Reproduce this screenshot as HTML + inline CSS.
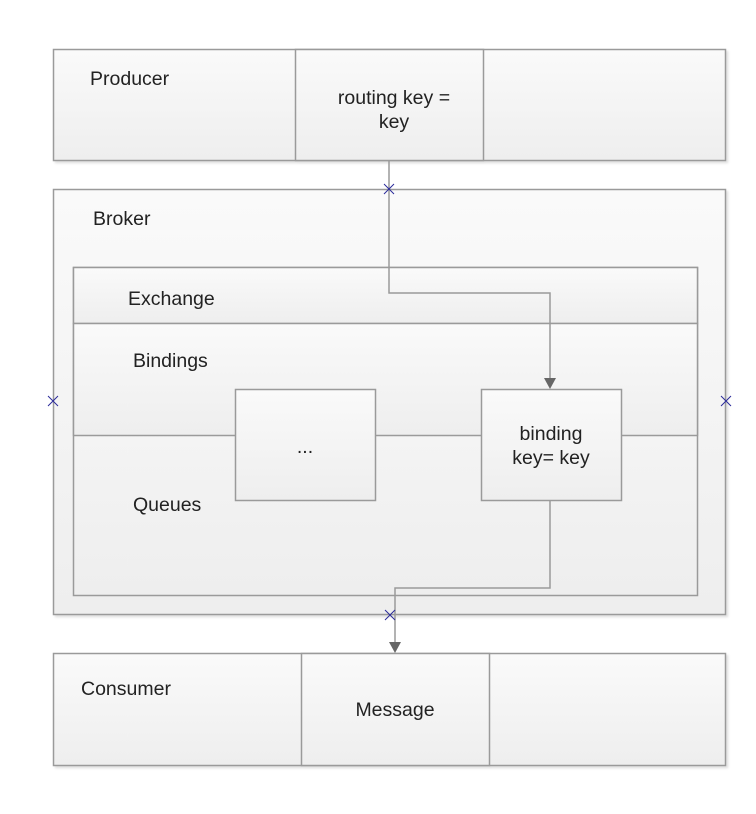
<!DOCTYPE html>
<html><head><meta charset="utf-8"><style>
html,body{margin:0;padding:0;background:#fff;}
svg{display:block;}
text{font-family:"Liberation Sans",Arial,sans-serif;font-size:19.5px;fill:#222;}
</style></head><body>
<svg width="756" height="814" viewBox="0 0 756 814" xmlns="http://www.w3.org/2000/svg">
<defs>
<linearGradient id="g" x1="0" y1="0" x2="0" y2="1"><stop offset="0" stop-color="#fafafa"/><stop offset="1" stop-color="#eeeeee"/></linearGradient>
<filter id="s" x="-5%" y="-5%" width="110%" height="110%"><feDropShadow dx="2" dy="2" stdDeviation="1" flood-color="#000" flood-opacity="0.12"/></filter>
</defs>
<g stroke="#9a9a9a" stroke-width="1.5" fill="url(#g)" filter="url(#s)">
<rect x="53.5" y="49.5" width="672" height="111"/>
<rect x="295.5" y="49.5" width="188" height="111"/>
<rect x="53.5" y="189.5" width="672" height="425"/>
<rect x="73.5" y="267.5" width="624" height="328"/>
<rect x="73.5" y="267.5" width="624" height="56"/>
<rect x="73.5" y="323.5" width="624" height="112"/>
<rect x="235.5" y="389.5" width="140" height="111"/>
<rect x="481.5" y="389.5" width="140" height="111"/>
<rect x="53.5" y="653.5" width="672" height="112"/>
<rect x="301.5" y="653.5" width="188" height="112"/>
</g>
<g stroke="#9a9a9a" stroke-width="1.5" fill="none">
<polyline points="389,160 389,293 550,293 550,380"/>
<polyline points="550,500 550,588 395,588 395,644"/>
</g>
<polygon points="544,378 556,378 550,389" fill="#666"/>
<polygon points="389,642 401,642 395,653" fill="#666"/>
<g stroke="#2b2b9a" stroke-width="1">
<path d="M384,184l10,10M394,184l-10,10"/>
<path d="M385,610l10,10M395,610l-10,10"/>
<path d="M48,396l10,10M58,396l-10,10"/>
<path d="M721,396l10,10M731,396l-10,10"/>
</g>
<text x="90" y="85">Producer</text>
<text x="394" y="104" text-anchor="middle">routing key =</text>
<text x="394" y="128" text-anchor="middle">key</text>
<text x="93" y="225">Broker</text>
<text x="128" y="305">Exchange</text>
<text x="133" y="367">Bindings</text>
<text x="133" y="511">Queues</text>
<text x="305" y="453" text-anchor="middle">...</text>
<text x="551" y="440" text-anchor="middle">binding</text>
<text x="551" y="464" text-anchor="middle">key= key</text>
<text x="81" y="695">Consumer</text>
<text x="395" y="716" text-anchor="middle">Message</text>
</svg>
</body></html>
